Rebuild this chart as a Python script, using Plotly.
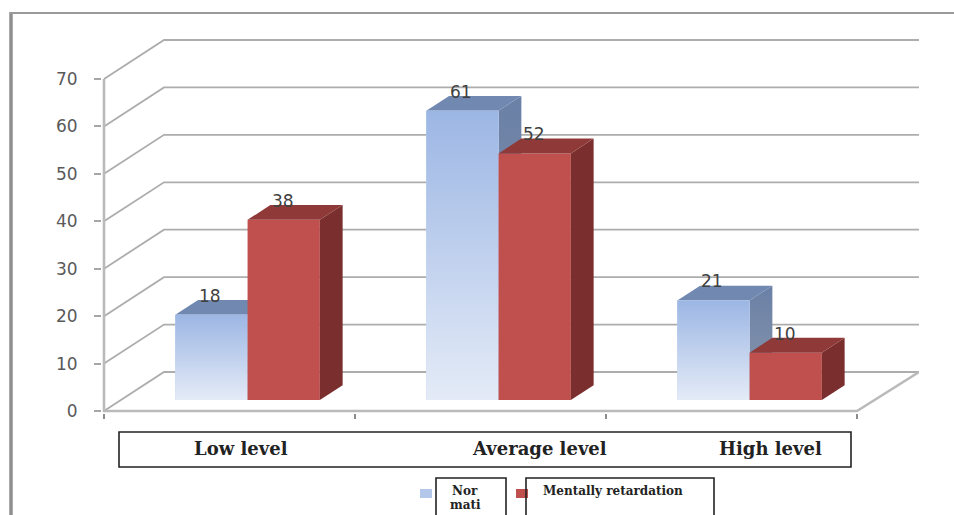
import plotly.graph_objects as go

# Chart content
categories = ["Low level", "Average level", "High level"]
series_names = ["Nor<br>mati", "Mentally retardation"]
normal_values = [18, 61, 21]
retarded_values = [38, 52, 10]
value_ticks = [0, 10, 20, 30, 40, 50, 60, 70]
category_edges = [0, 1, 2, 3]
category_label_px = [241, 539, 770]

# Page and plot box, in pixels
W, H = 954, 515
LEFT, RIGHT, TOP, FRONT_BASE = 104, 919, 39, 411
PAD = 2  # spare room so strokes on the box edge are not cut in half
CAT_PX = 251.0
VAL_PX = 4.743

# Oblique projection: the back wall sits this far from the front plane
WALL_DX = 60 / CAT_PX
WALL_DY = 39 / VAL_PX
# Bars occupy this slice of the floor depth
BAR_Z0, BAR_Z1 = 0.28, 0.66
BAR_WIDTH = 0.288
GROUP_START = 0.217

X_MIN = -PAD / CAT_PX
X_MAX = (RIGHT - LEFT) / CAT_PX
Y_MIN = -PAD / VAL_PX
Y_MAX = (FRONT_BASE - TOP + PAD) / VAL_PX

BOX_L, BOX_R, BOX_T, BOX_B = LEFT - PAD, RIGHT, TOP - PAD, FRONT_BASE + PAD


def project(x, value, depth):
    """Oblique projection of (category position, value, depth 0-1) onto the axes."""
    return x + depth * WALL_DX, value + depth * WALL_DY


def px_x(px):
    return (px - BOX_L) / (BOX_R - BOX_L)


def px_y(px):
    return (BOX_B - px) / (BOX_B - BOX_T)


def polyline(points):
    xs, ys = [], []
    for p in points:
        if p is None:
            xs.append(None)
            ys.append(None)
        else:
            xs.append(p[0])
            ys.append(p[1])
    return xs, ys


fig = go.Figure()

# Walls: one bracket per tick, up the side wall then along the back wall
grid_pts = []
for v in value_ticks:
    grid_pts += [project(0, v, 0), project(0, v, 1), project(3 + 2 / CAT_PX, v, 1), None]
gx, gy = polyline(grid_pts)
fig.add_trace(go.Scatter(x=gx, y=gy, mode="lines", line=dict(color="#adadad", width=1.8),
                         hoverinfo="skip"))

# Floor edges and the value axis
floor_pts = [project(3 + 2 / CAT_PX, 0, 1), project(3, 0, 0), project(0, 0, 0),
             project(0, max(value_ticks), 0)]
fx, fy = polyline(floor_pts)
fig.add_trace(go.Scatter(x=fx, y=fy, mode="lines", line=dict(color="#bababa", width=2.6),
                         hoverinfo="skip"))


def face(points, color=None, gradient=None, z=1):
    xs, ys = polyline(points + [points[0]])
    kw = dict(fillcolor=color) if gradient is None else dict(
        fillgradient=dict(type="vertical", colorscale=[[0, gradient[0]], [1, gradient[1]]]))
    fig.add_trace(go.Scatter(x=xs, y=ys, mode="lines", fill="toself", line=dict(width=0),
                             hoverinfo="skip", zorder=z, **kw))


def box_sides(x0, value, top_color, side_color=None, side_gradient=None, z=1):
    x1 = x0 + BAR_WIDTH
    face([project(x1, 0, BAR_Z0), project(x1, 0, BAR_Z1),
          project(x1, value, BAR_Z1), project(x1, value, BAR_Z0)],
         color=side_color, gradient=side_gradient, z=z)
    face([project(x0, value, BAR_Z0), project(x1, value, BAR_Z0),
          project(x1, value, BAR_Z1), project(x0, value, BAR_Z1)],
         color=top_color, z=z)


normal_x = [i + GROUP_START for i in range(len(categories))]
retarded_x = [x + BAR_WIDTH for x in normal_x]
base_lift = BAR_Z0 * WALL_DY
shift_x = BAR_Z0 * WALL_DX

for x0, v in zip(normal_x, normal_values):
    box_sides(x0, v, "#7189b1", side_gradient=("#8b98ac", "#6a80a6"), z=1)

fig.add_trace(go.Bar(
    x=[x + shift_x + BAR_WIDTH / 2 for x in normal_x], y=normal_values,
    base=[base_lift] * 3, width=BAR_WIDTH, marker=dict(color="#bccfee", line=dict(width=0)),
    name="Nor mati", hoverinfo="skip", zorder=2))

# Pale-to-saturated wash on each front face of the first series
for x0, v in zip(normal_x, normal_values):
    face([project(x0, 0, BAR_Z0), project(x0 + BAR_WIDTH, 0, BAR_Z0),
          project(x0 + BAR_WIDTH, v, BAR_Z0), project(x0, v, BAR_Z0)],
         gradient=("#e4ebf7", "#9cb6e4"), z=2)

for x0, v in zip(retarded_x, retarded_values):
    box_sides(x0, v, "#8f3a38", side_color="#7a2f2e", z=3)

fig.add_trace(go.Bar(
    x=[x + shift_x + BAR_WIDTH / 2 for x in retarded_x], y=retarded_values,
    base=[base_lift] * 3, width=BAR_WIDTH, marker=dict(color="#c0504d", line=dict(width=0)),
    name="Mentally retardation", hoverinfo="skip", zorder=3))

# Value labels sit a little above each bar's front top edge
annotations = []
for xs, vals in ((normal_x, normal_values), (retarded_x, retarded_values)):
    for x0, v in zip(xs, vals):
        lx, ly = project(x0 + BAR_WIDTH / 2, v, BAR_Z0)
        annotations.append(dict(x=lx, y=ly, text=str(v), showarrow=False, yshift=19, xshift=-1,
                                font=dict(family="DejaVu Sans", size=17, color="#404040")))


def caption(cx, cy, text, font):
    return dict(x=px_x(cx), y=px_y(cy), xref="paper", yref="paper", text=text, showarrow=False,
                xanchor="center", yanchor="middle", font=font)


# Category captions inside their ruled box
for label, cx in zip(categories, category_label_px):
    annotations.append(caption(cx, 448, f"<b>{label}</b>",
                               dict(family="DejaVu Serif", size=18, color="#222222")))

# Legend entries
legend_font = dict(family="DejaVu Serif", size=12, color="#222222")
first, second = series_names[0].split("<br>")
annotations += [
    caption(465, 491, f"<b>{first}</b>", legend_font),
    caption(465, 505, f"<b>{second}</b>", legend_font),
    caption(613, 491, f"<b>{series_names[1]}</b>", legend_font),
]


def rect(x0, y0, x1, y1, line=None, fill=None):
    return dict(type="rect", xref="paper", yref="paper", layer="above",
                x0=px_x(x0), x1=px_x(x1), y0=px_y(y0), y1=px_y(y1),
                line=line or dict(width=0), fillcolor=fill)


def rule(x0, y0, x1, y1, color, width):
    return dict(type="line", xref="paper", yref="paper", layer="below",
                x0=px_x(x0), x1=px_x(x1), y0=px_y(y0), y1=px_y(y1),
                line=dict(color=color, width=width))


box_line = dict(color="#222222", width=1.6)
shapes = [
    # Outer frame, left and top only
    rule(11, 12, 11, H + 4, "#8f8f8f", 3.5),
    rule(10, 13, W + 4, 13, "#9a9a9a", 2),
    # Caption box
    rect(119, 432, 851, 467, line=box_line),
    # Legend swatches and their boxes
    rect(420, 489, 432, 498, fill="#b3c7ea"),
    rect(516, 489, 528, 498, fill="#c0504d"),
    rect(436, 478, 506, H + 10, line=box_line),
    rect(526, 478, 714, H + 10, line=box_line),
]

fig.update_layout(
    width=W, height=H, autosize=False,
    margin=dict(l=BOX_L, r=W - BOX_R, t=BOX_T, b=H - BOX_B, pad=0),
    paper_bgcolor="white", plot_bgcolor="white",
    barmode="overlay", showlegend=False,
    annotations=annotations, shapes=shapes,
    xaxis=dict(range=[X_MIN, X_MAX], tickvals=category_edges, showticklabels=False,
               ticks="outside", ticklen=5, tickwidth=1.5, tickcolor="#8c8c8c",
               showgrid=False, zeroline=False, showline=False),
    yaxis=dict(range=[Y_MIN, Y_MAX], tickvals=value_ticks, ticks="outside", ticklen=7, tickwidth=2,
               tickcolor="#a6a6a6", ticklabelstandoff=13,
               tickfont=dict(family="DejaVu Sans", size=17, color="#595959"),
               showgrid=False, zeroline=False, showline=False),
)

fig.write_html("out.html")
